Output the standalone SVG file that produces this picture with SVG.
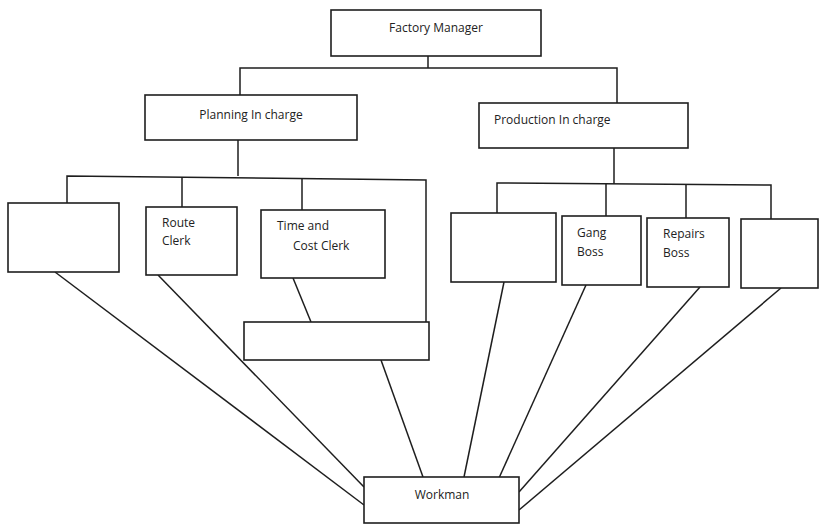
<svg xmlns="http://www.w3.org/2000/svg" width="819" height="526" viewBox="0 0 819 526">
<style>
.box{fill:#fff;stroke:#1e1e1e;stroke-width:1.6}
.ln{fill:none;stroke:#1e1e1e;stroke-width:1.5}
text{font-family:"Open Sans","Liberation Sans",sans-serif;font-size:12px;fill:#222}
</style>
<rect width="819" height="526" fill="#fff"/>
<g id="connectors">
<polyline class="ln" points="428,56 428,68"/>
<polyline class="ln" points="240,95 240,68 617,68 617,103"/>
<polyline class="ln" points="238,140 238,176"/>
<polyline class="ln" points="67,203 67,176 426,180 426,322"/>
<line class="ln" x1="182" y1="177" x2="182" y2="207"/>
<line class="ln" x1="302" y1="178" x2="302" y2="210"/>
<polyline class="ln" points="614,148 614,184"/>
<polyline class="ln" points="497,213 497,183 771,185 771,220"/>
<line class="ln" x1="606" y1="184" x2="606" y2="216"/>
<line class="ln" x1="686" y1="185" x2="686" y2="218"/>
<line class="ln" x1="293" y1="278" x2="311" y2="322"/>
<line class="ln" x1="55" y1="272" x2="364" y2="505"/>
<line class="ln" x1="158" y1="275" x2="364" y2="487"/>
<line class="ln" x1="381" y1="360" x2="423" y2="477"/>
<line class="ln" x1="504" y1="282" x2="464" y2="477"/>
<line class="ln" x1="586" y1="285" x2="499" y2="478"/>
<line class="ln" x1="700" y1="287" x2="519" y2="492"/>
<line class="ln" x1="781" y1="288" x2="519" y2="510"/>
</g>
<g id="factory-manager"><rect class="box" x="331" y="10" width="210" height="46"/><text x="436" y="32" text-anchor="middle">Factory Manager</text></g>
<g id="planning-in-charge"><rect class="box" x="145" y="95" width="212" height="45"/><text x="251" y="119" text-anchor="middle">Planning In charge</text></g>
<g id="production-in-charge"><rect class="box" x="479" y="103" width="209" height="45"/><text x="494" y="124">Production In charge</text></g>
<g id="planning-blank"><rect class="box" x="8" y="203" width="111" height="69"/></g>
<g id="route-clerk"><rect class="box" x="146" y="207" width="91" height="68"/><text x="162" y="227">Route</text><text x="162" y="245">Clerk</text></g>
<g id="time-cost-clerk"><rect class="box" x="261" y="210" width="124" height="68"/><text x="277" y="230">Time and</text><text x="293" y="250">Cost Clerk</text></g>
<g id="planning-bottom-blank"><rect class="box" x="244" y="322" width="185" height="38"/></g>
<g id="production-blank-1"><rect class="box" x="451" y="213" width="105" height="69"/></g>
<g id="gang-boss"><rect class="box" x="562" y="216" width="79" height="69"/><text x="577" y="237">Gang</text><text x="577" y="256">Boss</text></g>
<g id="repairs-boss"><rect class="box" x="647" y="218" width="82" height="69"/><text x="663" y="238">Repairs</text><text x="663" y="257">Boss</text></g>
<g id="production-blank-2"><rect class="box" x="741" y="219" width="77" height="69"/></g>
<g id="workman"><rect class="box" x="364" y="477" width="155" height="46"/><text x="442" y="499" text-anchor="middle">Workman</text></g>
</svg>
